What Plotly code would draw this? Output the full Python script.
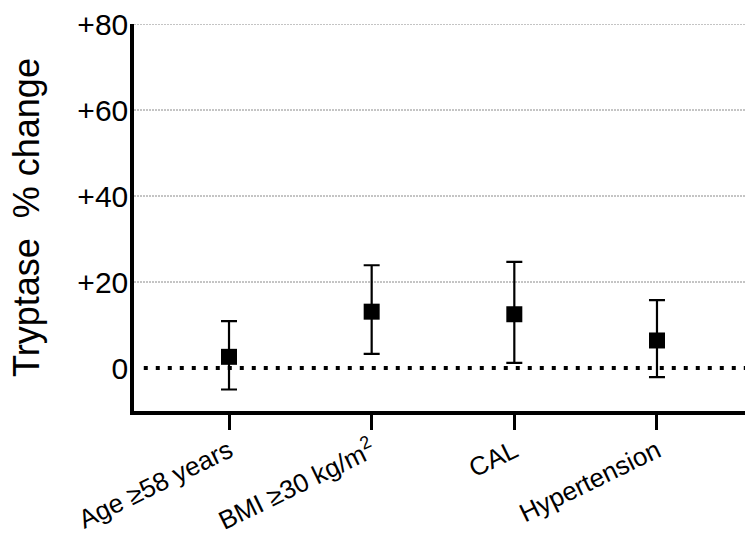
import plotly.graph_objects as go

categories = ["Age ≥58 years", "BMI ≥30 kg/m<sup>2</sup>", "CAL", "Hypertension"]
means = [2.6, 13.1, 12.5, 6.4]
upper = [10.9, 23.9, 24.7, 15.8]
lower = [-5.0, 3.3, 1.2, -2.1]

y_ticks = [0, 20, 40, 60, 80]
y_tick_labels = ["0", "+20", "+40", "+60", "+80"]

err_plus = [u - m for u, m in zip(upper, means)]
err_minus = [m - l for m, l in zip(means, lower)]

FONT = "Liberation Sans, Arial, sans-serif"

fig = go.Figure()
fig.add_trace(go.Scatter(
    x=list(range(len(categories))),
    y=means,
    mode="markers",
    marker=dict(symbol="square", size=16, color="black"),
    error_y=dict(type="data", symmetric=False, array=err_plus, arrayminus=err_minus,
                 color="black", thickness=2.2, width=8),
    showlegend=False,
))

# light dotted gridlines at the non-zero ticks
for v in y_ticks:
    if v == 0:
        continue
    fig.add_shape(type="line", xref="paper", yref="y", x0=0, x1=1, y0=v, y1=v,
                  line=dict(color="#8a8a8a", width=1, dash="2px,1px"), layer="below")

# heavy dotted reference line at zero
fig.add_shape(type="line", xref="paper", yref="y", x0=0.016, x1=1, y0=0, y1=0,
              line=dict(color="black", width=4, dash="4px,8px"), layer="below")

fig.update_layout(
    width=745, height=539,
    margin=dict(l=134, r=0, t=24, b=128),
    paper_bgcolor="white", plot_bgcolor="white",
    font=dict(family=FONT, color="black"),
    xaxis=dict(
        range=[-0.666, 3.617], automargin=False,
        tickmode="array", tickvals=list(range(len(categories))), ticktext=categories,
        tickangle=-26, tickfont=dict(size=26, family=FONT, color="black"),
        ticklabelstandoff=-4,
        showline=True, linecolor="black", linewidth=3.5,
        ticks="outside", ticklen=15, tickwidth=3.3, tickcolor="black",
        showgrid=False, zeroline=False,
    ),
    yaxis=dict(
        range=[-10, 80], automargin=False,
        tickmode="array", tickvals=y_ticks, ticktext=y_tick_labels,
        tickfont=dict(size=30, family=FONT, color="black"),
        ticklabelstandoff=-4,
        showline=True, linecolor="black", linewidth=3.5,
        ticks="", showgrid=False, zeroline=False,
        title=dict(text="Tryptase\u00a0\u00a0% change", font=dict(size=36, family=FONT, color="black"),
                   standoff=28),
    ),
)

fig.write_html("out.html")
